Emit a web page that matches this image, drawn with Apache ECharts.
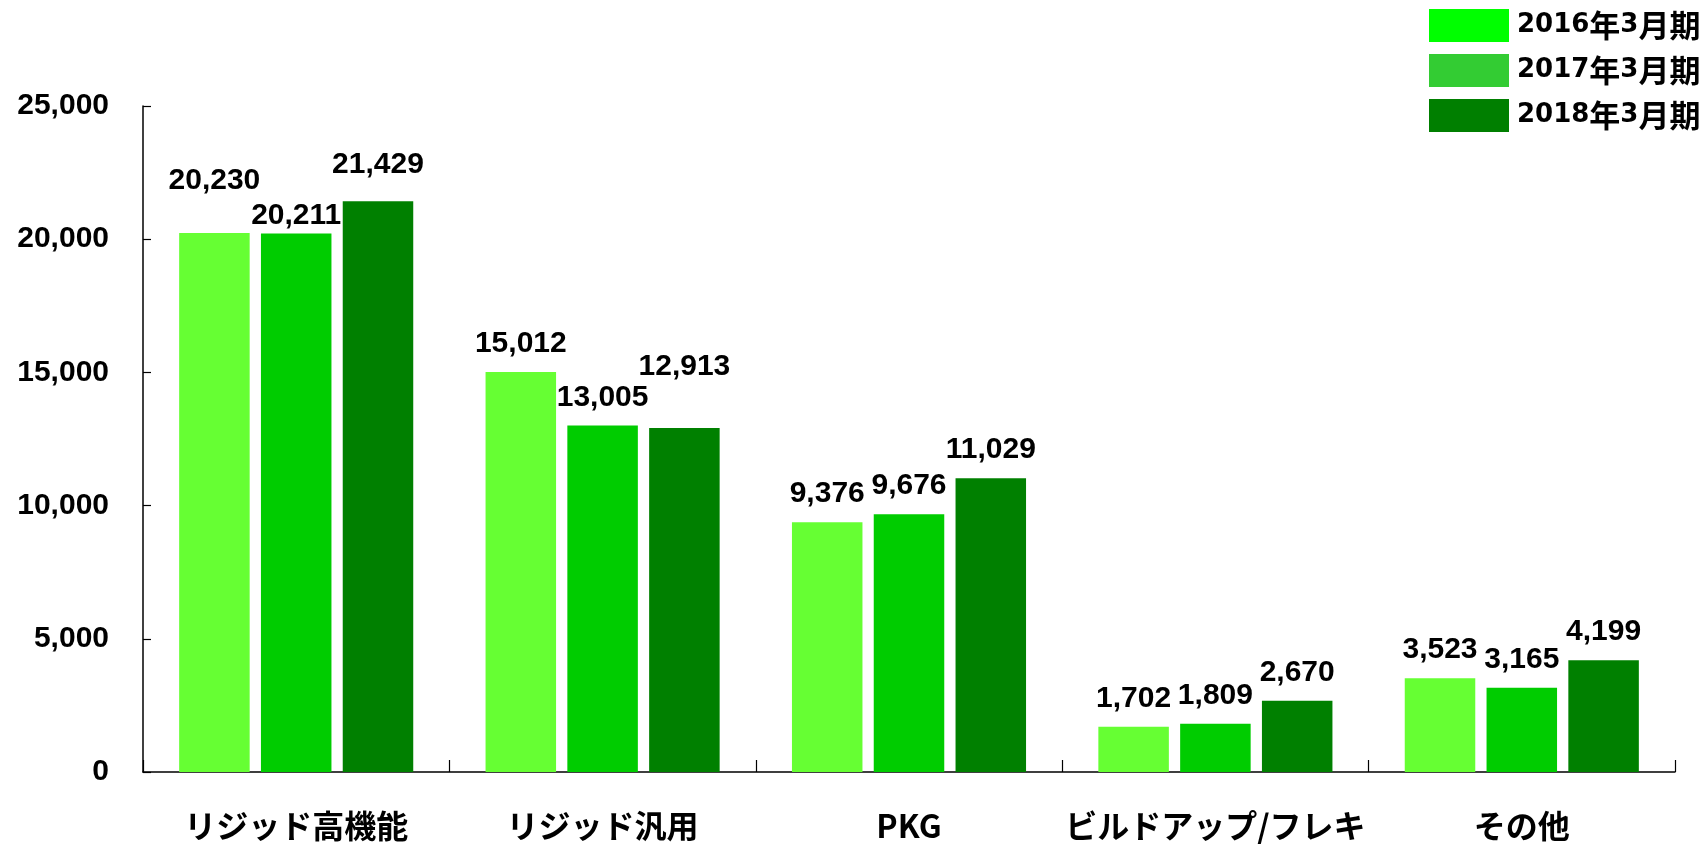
<!DOCTYPE html>
<html>
<head>
<meta charset="utf-8">
<script src="https://cdn.jsdelivr.net/npm/echarts@6/dist/echarts.min.js"></script>
<style>
  html, body { margin: 0; padding: 0; background: #fff; }
  #chart { width: 1700px; height: 844px; }
</style>
</head>
<body>
<div id="chart"></div>
<script>
// Segment sales by fiscal year
const categories = ['リジッド高機能', 'リジッド汎用', 'PKG', 'ビルドアップ/フレキ', 'その他'];
const seriesNames = ['2016年3月期', '2017年3月期', '2018年3月期'];
const fy2016 = [20230, 15012, 9376, 1702, 3523];
const fy2017 = [20211, 13005, 9676, 1809, 3165];
const fy2018 = [21429, 12913, 11029, 2670, 4199];
const yTicks = [0, 5000, 10000, 15000, 20000, 25000];

// Bar fills and legend swatches
const barColors = ['#66FF33', '#00CC00', '#008000'];
const legendColors = ['#00FF00', '#33CC33', '#007F00'];

// Extra vertical nudge (px) for value labels that would otherwise collide
const labelNudge = [
  [-24, 0, 0, 0, 0],
  [10, 0, 0, 0, 0],
  [-8, -33, 0, 0, 0]
];

const fmt = v => Number(v).toLocaleString('en-US');
const numFont = '"Liberation Sans", Arial, sans-serif';
const jpFont = '"Noto Sans CJK JP", sans-serif';

const values = [fy2016, fy2017, fy2018];

// Legend names: digits in a wide sans, kanji in the CJK face
const legendRich = name =>
  name.replace(/(\d+)|([^\d]+)/g, (m, d, k) => d ? '{d|' + d + '}' : '{k|' + k + '}');

const chart = echarts.init(document.getElementById('chart'), null, { renderer: 'canvas' });

chart.setOption({
  animation: false,
  backgroundColor: '#ffffff',
  grid: { left: 143, right: 25, top: 106, bottom: 72, containLabel: false },
  legend: {
    orient: 'vertical',
    left: 1429,
    top: 9,
    padding: 0,
    itemWidth: 80,
    itemHeight: 33,
    itemGap: 12,
    icon: 'rect',
    data: seriesNames.map((n, i) => ({ name: n, itemStyle: { color: legendColors[i] } })),
    formatter: legendRich,
    textStyle: {
      color: '#000',
      padding: [0, 0, 0, 3],
      rich: {
        d: { fontFamily: 'DejaVu Sans, sans-serif', fontWeight: 'bold', fontSize: 26, color: '#000' },
        k: { fontFamily: jpFont, fontWeight: 'bold', fontSize: 31, color: '#000' }
      }
    }
  },
  xAxis: {
    type: 'category',
    data: categories,
    axisLine: { lineStyle: { color: '#000', width: 1.5 } },
    axisTick: { show: true, inside: true, length: 12, alignWithLabel: false, lineStyle: { color: '#000', width: 1.2 } },
    axisLabel: {
      interval: 0,
      margin: 38,
      fontFamily: jpFont,
      fontWeight: 'bold',
      fontSize: 32,
      color: '#000'
    },
    splitLine: { show: false }
  },
  yAxis: {
    type: 'value',
    min: yTicks[0],
    max: yTicks[yTicks.length - 1],
    interval: yTicks[1] - yTicks[0],
    axisLine: { show: true, lineStyle: { color: '#000', width: 1.5 } },
    axisTick: { show: true, inside: true, length: 8, lineStyle: { color: '#000', width: 1.2 } },
    axisLabel: {
      margin: 34,
      formatter: v => fmt(v),
      fontFamily: numFont,
      fontWeight: 'bold',
      fontSize: 30,
      color: '#000'
    },
    splitLine: { show: false }
  },
  series: seriesNames.map((name, s) => ({
    name: name,
    type: 'bar',
    barCategoryGap: '23.6%',
    barGap: '16%',
    itemStyle: { color: barColors[s] },
    label: {
      show: true,
      position: 'top',
      distance: 13,
      formatter: p => fmt(p.value),
      fontFamily: numFont,
      fontWeight: 'bold',
      fontSize: 30,
      color: '#000'
    },
    data: values[s].map((v, i) => ({
      value: v,
      label: labelNudge[s][i] ? { offset: [0, labelNudge[s][i]] } : undefined
    }))
  }))
});
</script>
</body>
</html>
